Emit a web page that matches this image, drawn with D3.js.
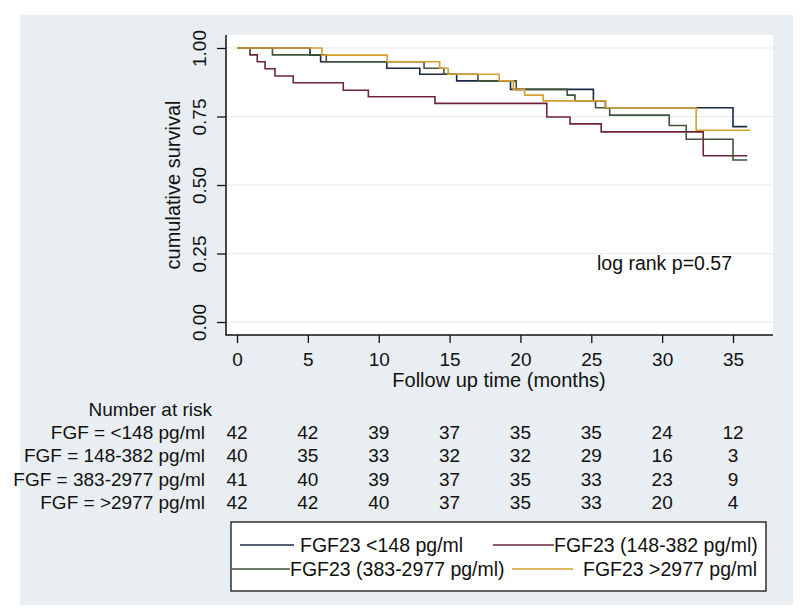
<!DOCTYPE html>
<html>
<head>
<meta charset="utf-8">
<script src="https://cdn.jsdelivr.net/npm/d3@7"></script>
<style>
  html, body { margin: 0; padding: 0; background: #ffffff; }
  svg { display: block; font-family: "Liberation Sans", Arial, sans-serif; }
</style>
</head>
<body>
<svg id="chart" width="800" height="610"></svg>
<script>
// ---------- data ----------
const timeTicks = [0, 5, 10, 15, 20, 25, 30, 35];
const survTicks = [0, 0.25, 0.5, 0.75, 1];
const survTickLabels = ["0.00", "0.25", "0.50", "0.75", "1.00"];

const legendLabels = ["FGF23 <148 pg/ml", "FGF23 (148-382 pg/ml)", "FGF23 (383-2977 pg/ml)", "FGF23 >2977 pg/ml"];
const riskLabels = ["FGF = <148 pg/ml", "FGF = 148-382 pg/ml", "FGF = 383-2977 pg/ml", "FGF = >2977 pg/ml"];
const seriesColors = ["#1b2a44", "#6e2436", "#3f5439", "#d69e2e"];

const risk_lt148 = [42, 42, 39, 37, 35, 35, 24, 12];
const risk_148_382 = [40, 35, 33, 32, 32, 29, 16, 3];
const risk_383_2977 = [41, 40, 39, 37, 35, 33, 23, 9];
const risk_gt2977 = [42, 42, 40, 37, 35, 33, 20, 4];

// Kaplan-Meier step change points (time in months, cumulative survival)
const km_lt148_t = [0, 5.15, 5.9, 10.57, 12.9, 15.5, 19.3, 25.15, 26.0, 35.0, 36.0];
const km_lt148_s = [1, 0.974, 0.95, 0.926, 0.904, 0.88, 0.849, 0.807, 0.782, 0.713, 0.713];

const km_148_382_t = [0, 0.92, 1.43, 1.98, 2.68, 3.97, 7.5, 9.27, 13.97, 21.86, 23.5, 25.7, 32.9, 36.0];
const km_148_382_s = [1, 0.975, 0.95, 0.924, 0.898, 0.873, 0.846, 0.822, 0.798, 0.748, 0.723, 0.694, 0.607, 0.607];

const km_383_2977_t = [0, 2.5, 6.3, 13.2, 14.6, 17.0, 19.7, 23.3, 23.85, 25.3, 26.3, 30.5, 31.7, 35.0, 36.0];
const km_383_2977_s = [1, 0.975, 0.95, 0.926, 0.904, 0.88, 0.849, 0.828, 0.807, 0.782, 0.755, 0.717, 0.667, 0.591, 0.591];

const km_gt2977_t = [0, 6.0, 10.6, 14.3, 14.9, 18.5, 19.5, 20.3, 21.6, 26.0, 32.4, 36.2];
const km_gt2977_s = [1, 0.974, 0.95, 0.926, 0.904, 0.88, 0.849, 0.828, 0.807, 0.782, 0.70, 0.70];

const pText = "log rank p=0.57";

// ---------- build ----------
const series = [
  {t: km_lt148_t, s: km_lt148_s},
  {t: km_148_382_t, s: km_148_382_s},
  {t: km_383_2977_t, s: km_383_2977_s},
  {t: km_gt2977_t, s: km_gt2977_s}
];
const riskRows = [risk_lt148, risk_148_382, risk_383_2977, risk_gt2977];

const svg = d3.select("#chart");

// outer panel
svg.append("rect").attr("x", 20).attr("y", 15).attr("width", 773).attr("height", 590)
  .attr("fill", "#e8eef1");
// plot region
const plot = {left: 227, right: 773, top: 35, bottom: 335};
svg.append("rect").attr("x", plot.left).attr("y", plot.top)
  .attr("width", plot.right - plot.left).attr("height", plot.bottom - plot.top)
  .attr("fill", "#ffffff");

const x = d3.scaleLinear().domain([0, 35]).range([237, 733]);
const y = d3.scaleLinear().domain([0, 1]).range([322, 48]);

// gridlines
svg.append("g").selectAll("line").data(survTicks).join("line")
  .attr("x1", plot.left).attr("x2", plot.right)
  .attr("y1", d => y(d)).attr("y2", d => y(d))
  .attr("stroke", "#e4ebee").attr("stroke-width", 1.2);

// y axis
const yAxis = d3.axisLeft(y).tickValues(survTicks)
  .tickFormat((d, i) => survTickLabels[i]).tickSize(9).tickSizeOuter(0);
const gy = svg.append("g").attr("transform", `translate(${plot.left - 1},0)`).call(yAxis);
gy.select(".domain").remove();
gy.selectAll(".tick line").attr("stroke", "#111").attr("stroke-width", 1.3);
gy.selectAll(".tick text")
  .attr("x", null).attr("dy", null)
  .attr("transform", "translate(-20,0) rotate(-90)")
  .attr("text-anchor", "middle")
  .attr("font-size", 19).attr("fill", "#111");
svg.append("line").attr("x1", plot.left - 1).attr("x2", plot.left - 1)
  .attr("y1", plot.top).attr("y2", plot.bottom)
  .attr("stroke", "#111").attr("stroke-width", 1.5);

// x axis
const xAxis = d3.axisBottom(x).tickValues(timeTicks).tickFormat(d3.format("d"))
  .tickSize(8).tickSizeOuter(0);
const gx = svg.append("g").attr("transform", `translate(0,${plot.bottom})`).call(xAxis);
gx.select(".domain").remove();
gx.selectAll(".tick line").attr("stroke", "#111").attr("stroke-width", 1.3);
gx.selectAll(".tick text").attr("y", 31).attr("dy", null)
  .attr("font-size", 19).attr("fill", "#111");
svg.append("line").attr("x1", plot.left - 1.7).attr("x2", plot.right)
  .attr("y1", plot.bottom).attr("y2", plot.bottom)
  .attr("stroke", "#111").attr("stroke-width", 1.5);

// axis titles
svg.append("text").attr("transform", "translate(180,185) rotate(-90)")
  .attr("text-anchor", "middle").attr("font-size", 20).attr("fill", "#111")
  .text("cumulative survival");
svg.append("text").attr("x", 499).attr("y", 387)
  .attr("text-anchor", "middle").attr("font-size", 20).attr("fill", "#111")
  .text("Follow up time (months)");

// KM curves
const line = d3.line().x(d => x(d[0])).y(d => y(d[1])).curve(d3.curveStepAfter);
series.forEach((sr, i) => {
  const pts = sr.t.map((t, k) => [t, sr.s[k]]);
  svg.append("path").attr("d", line(pts))
    .attr("fill", "none").attr("stroke", seriesColors[i]).attr("stroke-width", 1.6);
});

// annotation
svg.append("text").attr("x", 597).attr("y", 270).attr("font-size", 19.5)
  .attr("fill", "#111").text(pText);

// number at risk table
const rowBase = [438.5, 462, 485.5, 509];
svg.append("text").attr("x", 212).attr("y", 415.5).attr("text-anchor", "end")
  .attr("font-size", 19).attr("fill", "#111").text("Number at risk");
riskLabels.forEach((lab, i) => {
  svg.append("text").attr("x", 205).attr("y", rowBase[i]).attr("text-anchor", "end")
    .attr("font-size", 19).attr("fill", "#111").text(lab);
  svg.append("g").selectAll("text").data(riskRows[i]).join("text")
    .attr("x", (d, k) => x(timeTicks[k])).attr("y", rowBase[i])
    .attr("text-anchor", "middle").attr("font-size", 19).attr("fill", "#111")
    .text(d => d);
});

// legend
svg.append("rect").attr("x", 231).attr("y", 522).attr("width", 535).attr("height", 69)
  .attr("fill", "#ffffff").attr("stroke", "#111").attr("stroke-width", 1.3);
const legendItems = [
  {k1: 240, k2: 294, tx: 300, row: 0},
  {k1: 493, k2: 554, tx: 554, row: 0},
  {k1: 232, k2: 290, tx: 290, row: 1},
  {k1: 512, k2: 573, tx: 583, row: 1}
];
const legRowY = [545, 569];
legendItems.forEach((it, i) => {
  svg.append("line").attr("x1", it.k1).attr("x2", it.k2)
    .attr("y1", legRowY[it.row]).attr("y2", legRowY[it.row])
    .attr("stroke", seriesColors[i]).attr("stroke-width", 1.6);
  svg.append("text").attr("x", it.tx).attr("y", legRowY[it.row] + 7)
    .attr("font-size", 19.5).attr("fill", "#111").text(legendLabels[i]);
});
</script>
</body>
</html>
